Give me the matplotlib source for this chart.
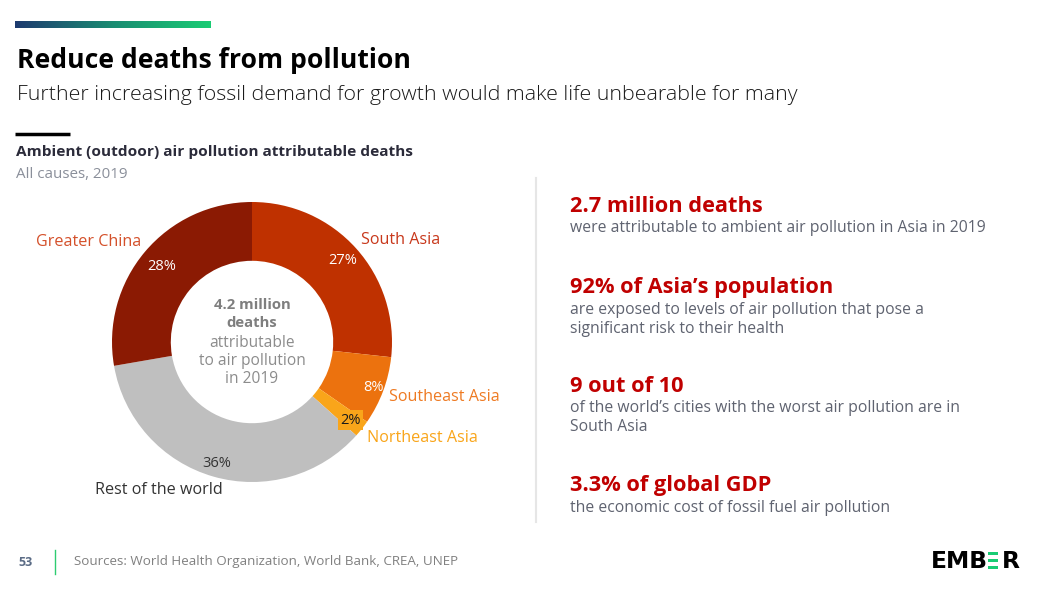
import matplotlib
matplotlib.use("Agg")
import matplotlib.pyplot as plt
import numpy as np
from matplotlib.patches import Rectangle
from matplotlib.colors import LinearSegmentedColormap

# ---------------- data ----------------
regions = ["South Asia", "Southeast Asia", "Northeast Asia", "Rest of the world", "Greater China"]
shares = [27, 8, 2, 36, 28]
pct_labels = ["27%", "8%", "2%", "36%", "28%"]
slice_colors = ["#BF3100", "#EC720E", "#F9A51A", "#BFBFBF", "#8B1A03"]
region_label_colors = ["#C8381B", "#EE7A22", "#F9A51A", "#333333", "#D4502A"]

center_lines = ["4.2 million", "deaths", "attributable", "to air pollution", "in 2019"]

facts_head = ["2.7 million deaths", "92% of Asia\u2019s population", "9 out of 10", "3.3% of global GDP"]
facts_body = [
    ["were attributable to ambient air pollution in Asia in 2019"],
    ["are exposed to levels of air pollution that pose a", "significant risk to their health"],
    ["of the world\u2019s cities with the worst air pollution are in", "South Asia"],
    ["the economic cost of fossil fuel air pollution"],
]

FONT = "Open Sans"
W, H = 1039, 589
fig = plt.figure(figsize=(W / 100, H / 100), dpi=100)
fig.patch.set_facecolor("white")

# ---------------- donut ----------------
cx, cy, R = 252, 342, 140
pad = 150
pax = fig.add_axes([(cx - pad) / W, (H - cy - pad) / H, 2 * pad / W, 2 * pad / H])
wedges, _ = pax.pie(shares, colors=slice_colors, startangle=90, counterclock=False,
                    radius=1.0, wedgeprops=dict(width=0.42, edgecolor="none"))
pax.set_xlim(-pad / R, pad / R)
pax.set_ylim(-pad / R, pad / R)
pax.set_aspect("equal")
pax.axis("off")

pct_r = [0.87, 0.93, 0.90, 0.90, 0.84]
pct_col = ["white", "white", "#1a1a1a", "#333333", "white"]
for w, lab, r, c in zip(wedges, pct_labels, pct_r, pct_col):
    ang = np.deg2rad((w.theta1 + w.theta2) / 2)
    kw = {}
    if lab == "2%":
        kw["bbox"] = dict(boxstyle="square,pad=0.15", fc="#F9A51A", ec="none")
    pax.text(r * np.cos(ang), r * np.sin(ang), lab, ha="center", va="center",
             fontsize=10.5, color=c, family=FONT, **kw)

center_y = [0.264, 0.136, -0.007, -0.136, -0.264]
for i, (t, yy) in enumerate(zip(center_lines, center_y)):
    pax.text(0, yy, t, ha="center", va="center", fontsize=10.7 if i < 2 else 11.2,
             color="#7F7F7F" if i < 2 else "#8C8C8C",
             fontweight="bold" if i < 2 else "normal", family=FONT)

# ---------------- overlay (pixel coords) ----------------
ov = fig.add_axes([0, 0, 1, 1])
ov.set_zorder(5)
ov.patch.set_alpha(0)

grad = np.linspace(0, 1, 256).reshape(1, -1)
cmap = LinearSegmentedColormap.from_list("ember", ["#1E3A6F", "#1A8C72", "#19CC74"])
ov.imshow(grad, cmap=cmap, extent=[15, 211, 28, 21], aspect="auto", zorder=1)
ov.set_xlim(0, W)
ov.set_ylim(H, 0)
ov.axis("off")

ov.text(17, 61, "Reduce deaths from pollution", fontsize=19.05, fontweight="bold",
        color="black", ha="left", va="center", family=FONT)
ov.text(17, 95, "Further increasing fossil demand for growth would make life unbearable for many",
        fontsize=15.4, color="#1a1a1a", ha="left", va="center", family=FONT, fontweight="light")
ov.plot([15, 70], [134, 134], color="black", lw=2.5, solid_capstyle="butt")
ov.text(16, 152, "Ambient (outdoor) air pollution attributable deaths", fontsize=11.1,
        fontweight="bold", color="#2B2B3A", ha="left", va="center", family=FONT)
ov.text(16, 174, "All causes, 2019", fontsize=10.9, color="#8A8F9A", ha="left",
        va="center", family=FONT)

region_pos = {
    "Greater China": (36, 242),
    "South Asia": (361, 240),
    "Southeast Asia": (389, 397),
    "Northeast Asia": (367, 438),
    "Rest of the world": (95, 490),
}
for reg, c in zip(regions, region_label_colors):
    x, y = region_pos[reg]
    ov.text(x, y, reg, fontsize=11.6, color=c, ha="left", va="center", family=FONT)

# divider
ov.plot([536, 536], [178, 522], color="#E6E6E6", lw=1.5)

head_y = [206, 288, 386, 486]
for hd, body, y in zip(facts_head, facts_body, head_y):
    ov.text(570, y, hd, fontsize=15.7, fontweight="bold", color="#C00000",
            ha="left", va="center", family=FONT)
    for j, line in enumerate(body):
        ov.text(570, y + 22 + 19 * j, line, fontsize=11.3, color="#5F6370",
                ha="left", va="center", family=FONT)

# footer
ov.text(18, 562, "53", fontsize=9, color="#5A6B85", fontweight="bold", ha="left",
        va="center", family=FONT)
ov.plot([55, 55], [550, 574], color="#2ECC71", lw=1)
ov.text(74, 562, "Sources: World Health Organization, World Bank, CREA, UNEP", fontsize=9.6,
        color="#808080", ha="left", va="center", family=FONT)

# logo
ov.text(931, 561, "EMB", fontsize=16.8, fontweight="bold", color="black", ha="left",
        va="center", family="DejaVu Sans")
for yb in (552, 559, 566):
    ov.add_patch(Rectangle((988, yb), 10, 3, color="#19CC74", lw=0))
ov.text(1002, 561, "R", fontsize=16.8, fontweight="bold", color="black", ha="left",
        va="center", family="DejaVu Sans")

fig.savefig("out.png", dpi=100, facecolor="white")
